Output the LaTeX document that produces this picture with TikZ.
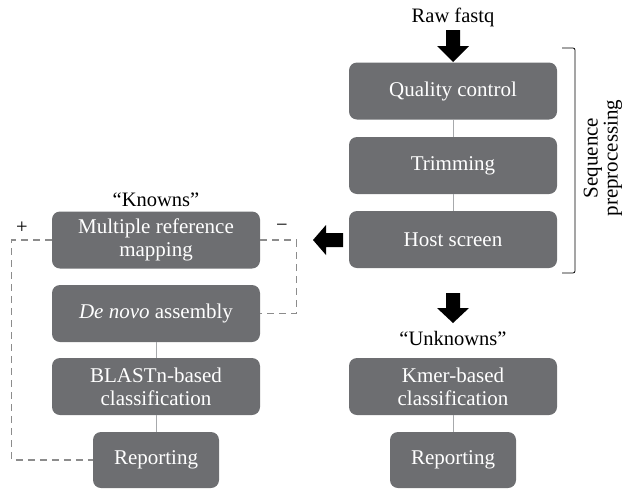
\documentclass[tikz,border=0pt]{standalone}
\usepackage{fontspec}
\setmainfont{Liberation Serif}
\begin{document}
\begin{tikzpicture}[x=1pt,y=-1pt,
  box/.style={draw=none,fill=boxgrey,rounded corners=8pt,text=white,align=center,
    font=\fontsize{21}{23}\selectfont,inner sep=0pt},
  wide/.style={box,minimum width=208pt,minimum height=57pt},
  narrow/.style={box,minimum width=126pt,minimum height=56pt},
  lbl/.style={font=\fontsize{20.5}{23}\selectfont,text=black,inner sep=0pt},
  link/.style={draw=linkgrey,line width=1pt},
  fb/.style={draw=dashgrey,line width=1.2pt,dash pattern=on 7pt off 5pt},
  blk/.style={fill=black,draw=none}]
\definecolor{boxgrey}{HTML}{6D6E71}
\definecolor{linkgrey}{HTML}{A7A9AC}
\definecolor{dashgrey}{HTML}{8C8C8C}
\useasboundingbox (0,0) rectangle (624,488);
% right column
\node[wide] (qc) at (453,91) {Quality control};
\node[wide] (trim) at (453,165.5) {Trimming};
\node[wide] (host) at (453,239.5) {Host screen};
\node[wide] (kmer) at (453,386.5) {Kmer-based\\classification};
\node[narrow] (repR) at (453,460) {Reporting};
% left column
\node[wide] (mrm) at (156,240) {Multiple reference\\mapping};
\node[wide] (denovo) at (156,313.5) {\textit{De novo} assembly};
\node[wide] (blast) at (156,386.5) {BLASTn-based\\classification};
\node[narrow] (repL) at (156,460) {Reporting};
% labels
\node[lbl] (raw) at (453,17) {Raw fastq};
\node[lbl] (known) at (156,200) {“Knowns”};
\node[lbl] (unknown) at (453,338) {“Unknowns”};
\node[lbl] (plus) at (22,228) {+};
\node[lbl] (minus) at (282,228) {−};
\node[lbl,rotate=90,align=center,font=\fontsize{21}{20}\selectfont] (seq) at (603,158) {Sequence\\preprocessing};
% connectors
\draw[link] (qc.south) -- (trim.north);
\draw[link] (trim.south) -- (host.north);
\draw[link] (kmer.south) -- (repR.north);
\draw[link] (denovo.south) -- (blast.north);
\draw[link] (blast.south) -- (repL.north);
% dashed feedback
\draw[fb] (mrm.west) -- ++(-40,0) coordinate (cl) |- (repL.west);
\draw[fb] (mrm.east) -- ++(36,0) coordinate (cr) |- (denovo.east);
% block arrows
\fill[blk] (446,30) -- (460,30) -- (460,46) -- (469,46) -- (453,62) -- (437,46) -- (446,46) -- cycle;
\fill[blk] (446,293) -- (460,293) -- (460,308) -- (469,308) -- (453,323) -- (437,308) -- (446,308) -- cycle;
\fill[blk] (343,233) -- (343,247) -- (326,247) -- (326,255) -- (313,240) -- (326,225) -- (326,233) -- cycle;
% bracket
\draw[black,line width=0.8pt,rounded corners=2pt] (562,48) -- (575,48) -- (575,273) -- (562,273);
\end{tikzpicture}
\end{document}
